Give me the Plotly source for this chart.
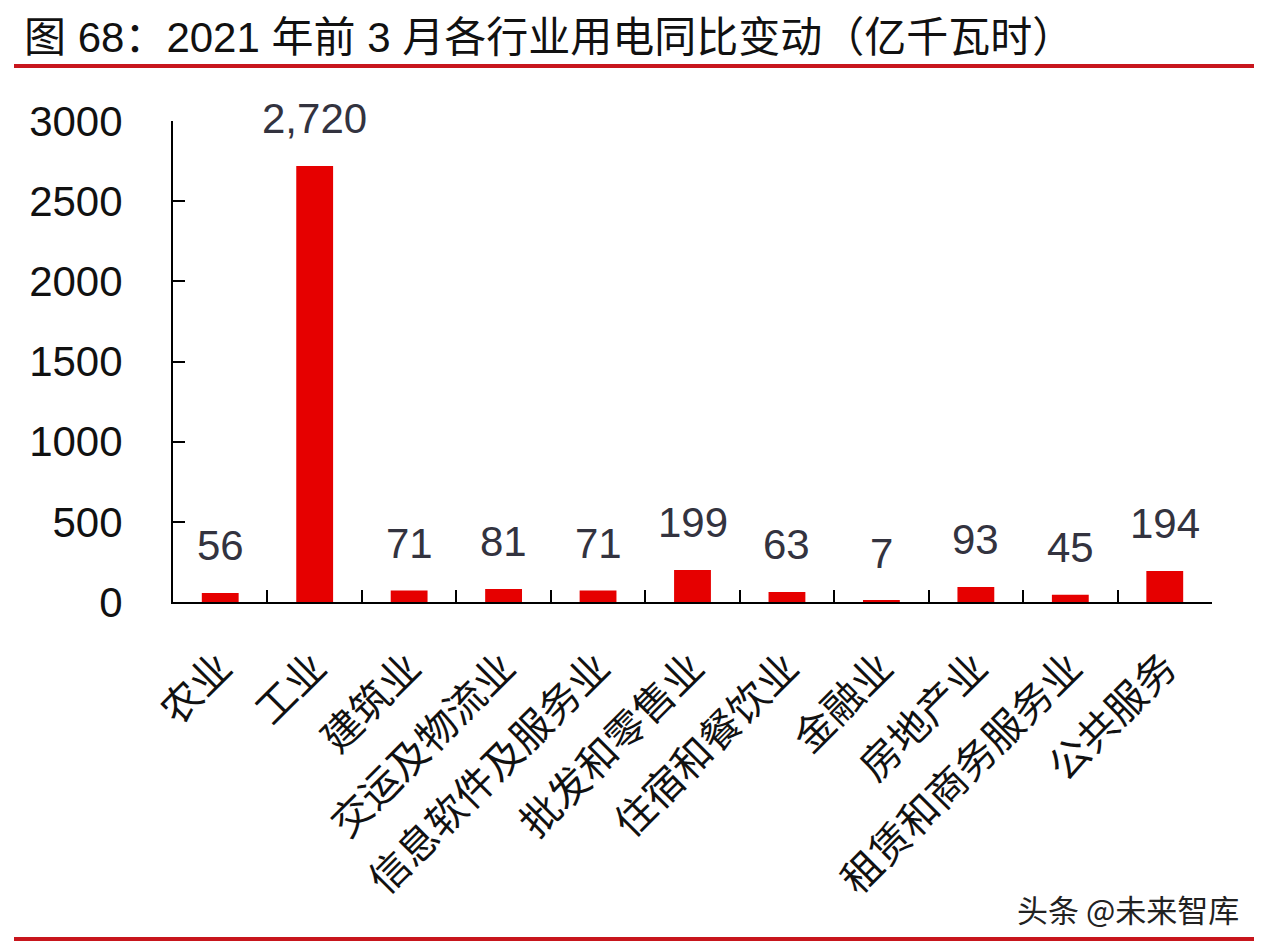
import plotly.graph_objects as go

categories = ["农业", "工业", "建筑业", "交运及物流业", "信息软件及服务业", "批发和零售业",
              "住宿和餐饮业", "金融业", "房地产业", "租赁和商务服务业", "公共服务"]
values = [56, 2720, 71, 81, 71, 199, 63, 7, 93, 45, 194]
value_labels = ["56", "2,720", "71", "81", "71", "199", "63", "7", "93", "45", "194"]
y_ticks = [0, 500, 1000, 1500, 2000, 2500, 3000]

W, H = 1266, 952
L, R, T, B = 173, 1212, 121, 602
pw, ph = R - L, B - T

def px(x):
    return (x - L) / pw

def py(y):
    return (B - y) / ph

fig = go.Figure()
fig.add_trace(go.Bar(x=categories, y=values, marker=dict(color="#e60000", line=dict(width=0)),
                     hoverinfo="x+y"))

for c, v, t in zip(categories, values, value_labels):
    fig.add_annotation(x=c, y=v, xref="x", yref="y", text=t, showarrow=False,
                       yanchor="bottom", yshift=22,
                       font=dict(family="Liberation Sans, Arial", size=42, color="#33333f"))

fig.add_annotation(x=px(22), y=py(38), xref="paper", yref="paper", xanchor="left", yanchor="middle",
                   text="图 68：2021 年前 3 月各行业用电同比变动（亿千瓦时）", showarrow=False,
                   font=dict(family="Liberation Sans, Noto Sans CJK SC", size=42, color="#111111"))
fig.add_annotation(x=px(1241), y=py(909), xref="paper", yref="paper", xanchor="right", yanchor="middle",
                   text="头条 @未来智库", showarrow=False,
                   font=dict(family="Noto Sans CJK SC", size=31, color="#222222"))

for yy in (66, 939):
    fig.add_shape(type="line", xref="paper", yref="paper", x0=px(14), x1=px(1254), y0=py(yy), y1=py(yy),
                  line=dict(color="#c8161d", width=4))

fig.update_layout(
    width=W, height=H,
    margin=dict(l=L, r=W - R, t=T, b=H - B, autoexpand=False),
    paper_bgcolor="white", plot_bgcolor="white",
    bargap=0.61, showlegend=False,
    xaxis=dict(type="category", showline=True, linecolor="black", linewidth=2,
               ticks="inside", tickson="boundaries", ticklen=12, tickwidth=2, tickcolor="black",
               tickangle=-45, automargin=False, showgrid=False, ticklabelstandoff=24,
               tickfont=dict(family="Noto Sans CJK SC", size=40, color="#111111")),
    yaxis=dict(range=[0, 3000], tickvals=y_ticks, showline=True, linecolor="black", linewidth=2,
               ticks="inside", ticklen=12, tickwidth=2, tickcolor="black", showgrid=False,
               zeroline=False, automargin=False, ticklabelstandoff=40,
               tickfont=dict(family="Liberation Sans, Arial", size=42, color="#111111")),
)

fig.write_html("out.html")
